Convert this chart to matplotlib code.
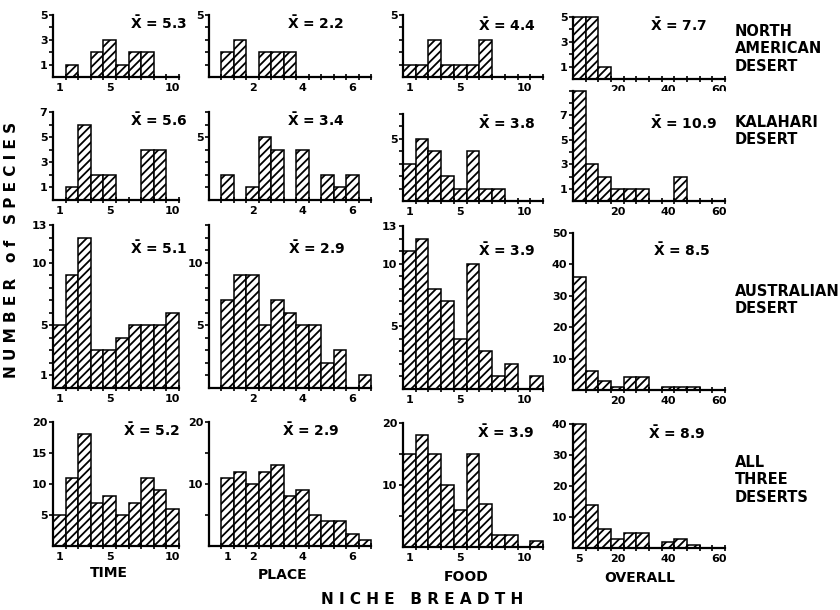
import matplotlib
matplotlib.use("Agg")
import matplotlib.pyplot as plt

# bin centres per niche dimension
time_bins = [1, 2, 3, 4, 5, 6, 7, 8, 9, 10]
place_bins = [0.5, 1.0, 1.5, 2.0, 2.5, 3.0, 3.5, 4.0, 4.5, 5.0, 5.5, 6.0, 6.5]
food_bins = [1, 2, 3, 4, 5, 6, 7, 8, 9, 10, 11]
overall_bins = [5, 10, 15, 20, 25, 30, 35, 40, 45, 50, 55, 60]

# number of species per bin, one list per desert
time_north = [0, 1, 0, 2, 3, 1, 2, 2, 0, 0]
time_kalahari = [0, 1, 6, 2, 2, 0, 0, 4, 4, 0]
time_australia = [5, 9, 12, 3, 3, 4, 5, 5, 5, 6]
time_all = [5, 11, 18, 7, 8, 5, 7, 11, 9, 6]

place_north = [0, 2, 3, 0, 2, 2, 2, 0, 0, 0, 0, 0, 0]
place_kalahari = [0, 2, 0, 1, 5, 4, 0, 4, 0, 2, 1, 2, 0]
place_australia = [0, 7, 9, 9, 5, 7, 6, 5, 5, 2, 3, 0, 1]
place_all = [0, 11, 12, 10, 12, 13, 8, 9, 5, 4, 4, 2, 1]

food_north = [1, 1, 3, 1, 1, 1, 3, 0, 0, 0, 0]
food_kalahari = [3, 5, 4, 2, 1, 4, 1, 1, 0, 0, 0]
food_australia = [11, 12, 8, 7, 4, 10, 3, 1, 2, 0, 1]
food_all = [15, 18, 15, 10, 6, 15, 7, 2, 2, 0, 1]

overall_north = [5, 5, 1, 0, 0, 0, 0, 0, 0, 0, 0, 0]
overall_kalahari = [9, 3, 2, 1, 1, 1, 0, 0, 2, 0, 0, 0]
overall_australia = [36, 6, 3, 1, 4, 4, 0, 1, 1, 1, 0, 0]
overall_all = [40, 14, 6, 3, 5, 5, 0, 2, 3, 1, 0, 0]

means = [["5.3", "2.2", "4.4", "7.7"],
         ["5.6", "3.4", "3.8", "10.9"],
         ["5.1", "2.9", "3.9", "8.5"],
         ["5.2", "2.9", "3.9", "8.9"]]
deserts = ["NORTH\nAMERICAN\nDESERT", "KALAHARI\nDESERT",
           "AUSTRALIAN\nDESERT", "ALL\nTHREE\nDESERTS"]
dims = ["TIME", "PLACE", "FOOD", "OVERALL"]

W, H = 840, 610
plt.rcParams.update({"font.family": "DejaVu Sans", "font.weight": "bold",
                     "hatch.linewidth": 1.3, "axes.linewidth": 1.6})

# column setup: bins, bar width, x limits, pixel span
cols = [
    (time_bins, 1.0, (0.5, 10.5), (53, 179)),
    (place_bins, 0.5, (0.25, 6.75), (209, 371)),
    (food_bins, 1.0, (0.5, 11.5), (403, 543)),
    (overall_bins, 5.0, (2.5, 62.5), (573, 725)),
]
counts = [
    [time_north, place_north, food_north, overall_north],
    [time_kalahari, place_kalahari, food_kalahari, overall_kalahari],
    [time_australia, place_australia, food_australia, overall_australia],
    [time_all, place_all, food_all, overall_all],
]
# per panel: (baseline px, top px, y max, labelled y ticks)
yspec = [
    [(77, 15, 5, [1, 3, 5]), (77, 15, 5, [5]), (77, 15, 5, [5]), (79, 17, 5, [1, 3, 5])],
    [(200, 112, 7, [1, 3, 5, 7]), (200, 112, 7, [5]), (201, 114, 7, [5]), (201, 91, 9, [1, 3, 5, 7])],
    [(388, 225, 13, [1, 5, 10, 13]), (388, 225, 13, [5, 10]), (389, 226, 13, [5, 10, 13]),
     (390, 233, 50, [10, 20, 30, 40, 50])],
    [(546, 422, 20, [5, 10, 15, 20]), (546, 422, 20, [10, 20]), (547, 423, 20, [10, 20]),
     (548, 424, 40, [10, 20, 30, 40])],
]
xlabels = [[1, 5, 10], [2, 4, 6], [1, 5, 10], [20, 40, 60]]
xlabels_last = [[1, 5, 10], [1, 2, 4, 6], [1, 5, 10], [5, 20, 40, 60]]
mean_pos = [[(130, 23), (287, 23), (478, 25), (650, 25)],
            [(130, 120), (287, 120), (478, 123), (650, 123)],
            [(130, 248), (288, 248), (478, 250), (653, 250)],
            [(123, 430), (282, 430), (477, 432), (648, 433)]]
desert_top = [24, 115, 284, 455]

fig = plt.figure(figsize=(8.4, 6.1), dpi=100)

for r in range(4):
    for c in range(4):
        bins, w, xlim, (x0, x1) = cols[c]
        base, top, ymax, ylab = yspec[r][c]
        ax = fig.add_axes([x0 / W, 1 - base / H, (x1 - x0) / W, (base - top) / H])
        ax.bar(bins, counts[r][c], width=w, color="white", edgecolor="black",
               hatch="////", linewidth=1.1, clip_on=False)
        ax.set_xlim(*xlim)
        ax.set_ylim(0, ymax)
        for s in ("top", "right"):
            ax.spines[s].set_visible(False)
        xl = xlabels_last[c] if r == 3 else xlabels[c]
        ax.set_xticks(xl)
        ax.set_xticklabels([str(v) for v in xl], fontsize=8)
        ax.set_xticks([b + w / 2 for b in bins], minor=True)
        ax.tick_params(axis="x", which="major", length=0, pad=4)
        ax.tick_params(axis="x", which="minor", direction="inout", length=5, width=1.2)
        ax.set_yticks(ylab)
        ax.set_yticklabels([str(v) for v in ylab], fontsize=8)
        if ymax <= 20:
            step = 5 if ymax == 20 else 1
            ax.set_yticks([v for v in range(step, ymax + 1, step) if v not in ylab], minor=True)
        ax.tick_params(axis="y", which="both", direction="out", length=3, width=1.2, pad=1)
        mx, my = mean_pos[r][c]
        fig.text(mx / W, 1 - my / H, r"$\bar{\mathbf{X}}$ = " + means[r][c],
                 fontsize=10, ha="left", va="center")
    fig.text(735 / W, 1 - desert_top[r] / H, deserts[r], fontsize=10.5,
             ha="left", va="top", linespacing=1.2)

label_x = [109, 283, 466, 640]
label_y = [573, 575, 577, 578]
for name, lx, ly in zip(dims, label_x, label_y):
    fig.text(lx / W, 1 - ly / H, name, fontsize=10, ha="center", va="center")

fig.text(422 / W, 1 - 600 / H, "N I C H E   B R E A D T H", fontsize=11,
         ha="center", va="center")
fig.text(12 / W, 1 - 250 / H, "N U M B E R   o f   S P E C I E S", fontsize=11,
         ha="center", va="center", rotation=90)

fig.savefig("out.png", dpi=100)
